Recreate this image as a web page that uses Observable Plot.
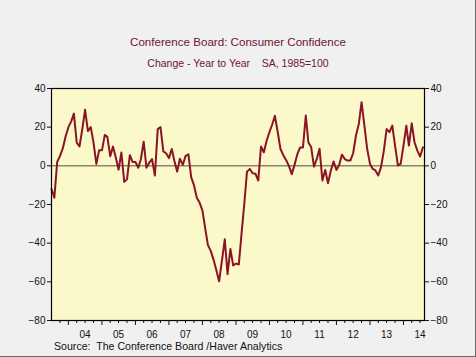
<!DOCTYPE html>
<html>
<head>
<meta charset="utf-8">
<script src="https://cdn.jsdelivr.net/npm/d3@7"></script>
<script src="https://cdn.jsdelivr.net/npm/@observablehq/plot@0.6"></script>
<style>
  html, body { margin: 0; padding: 0; background: #f0f0f0; }
  #wrap { position: relative; width: 476px; height: 357px; background: #f0f0f0; overflow: hidden;
          font-family: "Liberation Sans", Arial, sans-serif; box-shadow: inset -1px -1px 0 #6a6a6a; }
  .t { position: absolute; left: 0; width: 476px; text-align: center; color: #6e1533; line-height: 1; white-space: pre; }
  #title { top: 36px; font-size: 11.6px; }
  #subtitle { top: 58px; font-size: 10.5px; }
  #source { position: absolute; left: 54px; top: 341px; font-size: 10.6px; color: #111; line-height: 1; white-space: pre; }
  #chart { position: absolute; left: 0; top: 80px; }
</style>
</head>
<body>
<div id="wrap">
  <div id="title" class="t">Conference Board: Consumer Confidence</div>
  <div id="subtitle" class="t">Change - Year to Year    SA, 1985=100</div>
  <div id="chart"></div>
  <div id="source">Source:  The Conference Board /Haver Analytics</div>
</div>
<script>
// Monthly year-over-year % change, starting July 2003
const startYear = 2003;
const startMonth = 7;
const values = [
  -12, -16.5, 2, 5, 9, 15,
  20, 23, 27, 12, 10, 19, 29, 18, 20, 12, 1, 8,
  8, 16, 15, 5, 10, 4.3, -2, 6.9, -8.3, -7, 5.5, 2,
  2, -1, 3.4, 12.5, -1, 1.7, 3.5, -5, 19, 20, 7.5, 6.5,
  4, 8.7, 2.6, -3, 3.7, 0.5, 5, 6, -6, -10, -16.5, -19,
  -23, -32.5, -41, -44, -48.5, -54, -59.7, -49, -38, -56, -43, -51.5,
  -50.5, -51, -36, -20, -3, -1.6, -3.8, -4.1, -7.6, 10, 7, 13,
  17.5, 21.5, 25.9, 17.5, 8.7, 5.5, 3, 0, -4.3, 0.5, 6, 9.5,
  9.5, 26, 12.2, 9.6, -0.4, 3.6, 8.8, -7.6, -2.1, -9, -2.4, 2.2,
  -2.1, 0.5, 5.8, 3.5, 2.7, 2.7, 6.5, 15.7, 21.7, 32.9, 20.8, 8.8,
  1, -1.6, -2.4, -5, -0.7, 7.9, 19, 17.4, 20.8, 10.5, 0.2, 1,
  10.5, 20.8, 10.5, 22, 12.2, 7.9, 4.8, 9.6
];
const yTicks = [-80, -60, -40, -20, 0, 20, 40];
const yearLabels = ["04", "05", "06", "07", "08", "09", "10", "11", "12", "13", "14"];

const data = values.map((v, i) => ({
  date: new Date(Date.UTC(startYear, startMonth - 1 + i, 1)),
  value: v
}));

const labelDates = yearLabels.map(s => new Date(Date.UTC(2000 + (+s), 6, 1)));
const yearTicks = yearLabels.map(s => new Date(Date.UTC(2000 + (+s), 0, 1)));
const quarterTicks = [];
for (let y = 2003; y <= 2014; y++) {
  for (let m of [3, 6, 9]) {
    const d = new Date(Date.UTC(y, m, 1));
    if (d > new Date(Date.UTC(2003, 6, 1)) && d < new Date(Date.UTC(2014, 7, 15))) quarterTicks.push(d);
  }
}

const chart = Plot.plot({
  width: 476,
  height: 277,
  marginLeft: 51,
  marginRight: 52,
  marginTop: 8,
  marginBottom: 37,
  style: { fontFamily: "'Liberation Sans', Arial, sans-serif", fontSize: "10px", color: "#111", background: "transparent" },
  x: { type: "utc", domain: [new Date(Date.UTC(2003, 6, 1)), new Date(Date.UTC(2014, 7, 18))] },
  y: { domain: [-80, 40] },
  marks: [
    Plot.frame({ fill: "#fbf8c9", stroke: "none" }),
    Plot.ruleY([0], { stroke: "#4d4d45", strokeWidth: 1 }),
    Plot.line(data, { x: "date", y: "value", stroke: "#8a1426", strokeWidth: 2, strokeLinejoin: "round" }),
    Plot.frame({ stroke: "#000", strokeWidth: 1.2 }),
    Plot.axisY(yTicks, { anchor: "left", tickSize: 4, tickPadding: 2, label: null }),
    Plot.axisY(yTicks, { anchor: "right", tickSize: 4, tickPadding: 2, label: null }),
    Plot.axisX(quarterTicks, { tickSize: 3, tickFormat: () => "", label: null }),
    Plot.axisX(yearTicks, { tickSize: 5, tickFormat: () => "", label: null }),
    Plot.axisX(labelDates, { tickSize: 0, tickPadding: 10, tickFormat: (d, i) => yearLabels[i], label: null })
  ]
});
document.getElementById("chart").appendChild(chart);
</script>
</body>
</html>
